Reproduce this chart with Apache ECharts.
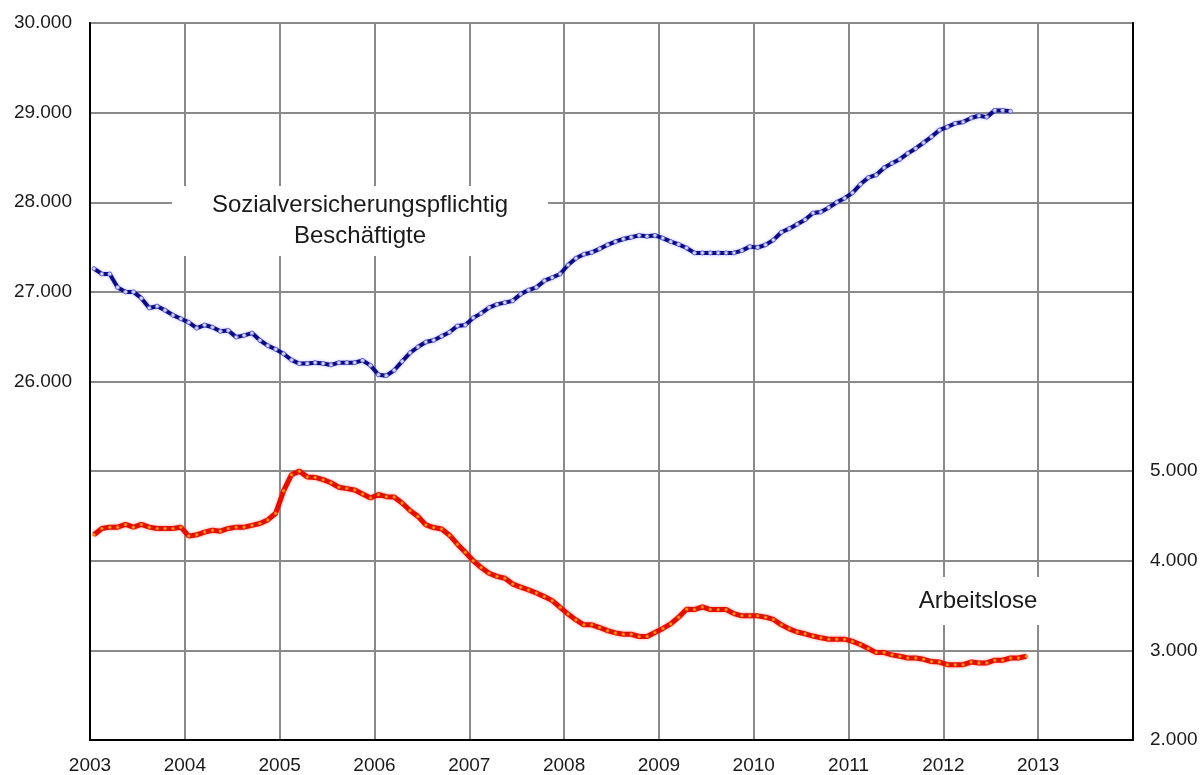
<!DOCTYPE html>
<html>
<head>
<meta charset="utf-8">
<script src="https://cdn.jsdelivr.net/npm/echarts@6/dist/echarts.min.js"></script>
<style>
  html, body { margin: 0; padding: 0; background: #fff; }
  #chart { width: 1204px; height: 775px; }
</style>
</head>
<body>
<div id="chart"></div>
<script>
// monatliche Werte in Tausend, Jan 2003 bis Sep 2012 bzw. Nov 2012
var startYear = 2003;
var yearLabels = [2003, 2004, 2005, 2006, 2007, 2008, 2009, 2010, 2011, 2012, 2013];

var beschaeftigte = [
  27260, 27200, 27200, 27050, 27000, 27000, 26930, 26820, 26840, 26795, 26740, 26700,
  26660, 26595, 26630, 26605, 26560, 26570, 26495, 26515, 26540, 26460, 26400, 26360,
  26310, 26240, 26200, 26200, 26210, 26200, 26185, 26210, 26210, 26210, 26235, 26180,
  26075, 26065, 26125, 26225, 26320, 26385, 26440, 26460, 26505, 26550, 26620, 26630,
  26710, 26760, 26825, 26860, 26880, 26900, 26975, 27020, 27050, 27125, 27160, 27200,
  27300, 27375, 27420, 27440, 27480, 27525, 27560, 27590, 27610, 27630, 27620, 27630,
  27600, 27560, 27530, 27490, 27435, 27435, 27435, 27435, 27435, 27435, 27460, 27505,
  27495, 27525, 27580, 27665, 27705, 27755, 27805, 27880, 27890, 27940, 28000, 28045,
  28105, 28200, 28275, 28305, 28385, 28435, 28480, 28545, 28600, 28665, 28730, 28805,
  28840, 28880, 28895, 28940, 28965, 28950, 29025, 29025, 29015
];

var arbeitslose = [
  4290, 4360, 4375, 4375, 4405, 4375, 4405, 4375, 4360, 4360, 4360, 4375,
  4275, 4290, 4320, 4340, 4330, 4360, 4375, 4375, 4395, 4415, 4455, 4530,
  4780, 4960, 5000, 4935, 4930, 4905, 4870, 4820, 4805, 4790, 4745, 4700,
  4740, 4715, 4710, 4645, 4560, 4495, 4400, 4370, 4355, 4285, 4185, 4095,
  4000, 3925, 3860, 3825, 3805, 3740, 3705, 3675, 3640, 3600, 3555, 3480,
  3405, 3340, 3285, 3285, 3255, 3220, 3195, 3180, 3180, 3155, 3155, 3200,
  3245, 3295, 3370, 3460, 3455, 3485, 3455, 3455, 3455, 3410, 3385, 3385,
  3385, 3370, 3345, 3285, 3240, 3205, 3185, 3160, 3140, 3125, 3125, 3125,
  3100, 3065, 3020, 2975, 2975, 2950, 2935, 2915, 2915, 2900, 2875, 2870,
  2840, 2840, 2840, 2870, 2860, 2860, 2890, 2890, 2915, 2915, 2935
];

// Monat i liegt in der Mitte des Monats
function toPoints(values) {
  return values.map(function (v, i) {
    return [startYear + (i + 0.5) / 12, v];
  });
}

function fmtThousand(v) {
  return (v / 1000) + '.000';
}

var tickFont = {
  color: '#1a1a1a',
  fontSize: 19,
  fontFamily: 'Arial, "Liberation Sans", sans-serif'
};

var myChart = echarts.init(document.getElementById('chart'));

option = {
  backgroundColor: '#ffffff',
  animation: false,
  grid: {
    left: 90,
    right: 71,
    top: 23,
    bottom: 34,
    show: true,
    borderColor: '#000',
    borderWidth: 2
  },
  xAxis: {
    type: 'value',
    min: 2003,
    max: 2014,
    interval: 1,
    axisLine: { show: true, lineStyle: { color: '#000', width: 2 } },
    axisTick: { show: false },
    axisLabel: Object.assign({
      margin: 16,
      formatter: function (v) {
        return yearLabels.indexOf(v) >= 0 ? String(v) : '';
      }
    }, tickFont),
    splitLine: { show: true, lineStyle: { color: '#8a8a8a', width: 2 } }
  },
  yAxis: [
    {
      type: 'value',
      min: 22000,
      max: 30000,
      interval: 1000,
      axisLine: { show: true, lineStyle: { color: '#000', width: 2 } },
      axisTick: { show: false },
      axisLabel: Object.assign({
        margin: 18,
        formatter: function (v) { return v >= 26000 ? fmtThousand(v) : ''; }
      }, tickFont),
      splitLine: { show: true, lineStyle: { color: '#8a8a8a', width: 2 } }
    },
    {
      type: 'value',
      position: 'right',
      min: 2000,
      max: 10000,
      interval: 1000,
      axisLine: { show: true, lineStyle: { color: '#000', width: 2 } },
      axisTick: { show: false },
      axisLabel: Object.assign({
        margin: 17,
        formatter: function (v) { return v <= 5000 ? fmtThousand(v) : ''; }
      }, tickFont),
      splitLine: { show: false }
    }
  ],
  graphic: [
    {
      type: 'text',
      x: 360,
      y: 221,
      z: 3,
      style: {
        text: 'Sozialversicherungspflichtig\nBeschäftigte',
        align: 'center',
        verticalAlign: 'middle',
        font: '24px Arial, "Liberation Sans", sans-serif',
        fill: '#1a1a1a',
        lineHeight: 31,
        backgroundColor: '#fff',
        padding: [4, 40]
      }
    },
    {
      type: 'text',
      x: 978,
      y: 601,
      z: 3,
      style: {
        text: 'Arbeitslose',
        align: 'center',
        verticalAlign: 'middle',
        font: '24px Arial, "Liberation Sans", sans-serif',
        fill: '#1a1a1a',
        backgroundColor: '#fff',
        padding: [12, 14]
      }
    }
  ],
  series: [
    {
      name: 'Sozialversicherungspflichtig Beschäftigte',
      type: 'line',
      yAxisIndex: 0,
      data: toPoints(beschaeftigte),
      symbol: 'circle',
      symbolSize: 4,
      lineStyle: {
        color: '#0c0c82',
        width: 4,
        shadowBlur: 3,
        shadowColor: 'rgba(120, 120, 255, 0.6)'
      },
      itemStyle: {
        color: '#d8d8ff',
        borderColor: '#6a6ad0',
        borderWidth: 1
      },
      z: 5
    },
    {
      name: 'Arbeitslose',
      type: 'line',
      yAxisIndex: 1,
      data: toPoints(arbeitslose),
      symbol: 'circle',
      symbolSize: 3,
      lineStyle: {
        color: '#e01000',
        width: 5,
        shadowBlur: 3,
        shadowColor: 'rgba(255, 100, 100, 0.7)'
      },
      itemStyle: {
        color: '#ff9a20',
        borderColor: '#ff5a00',
        borderWidth: 0.5
      },
      z: 5
    }
  ]
};

myChart.setOption(option);
</script>
</body>
</html>
